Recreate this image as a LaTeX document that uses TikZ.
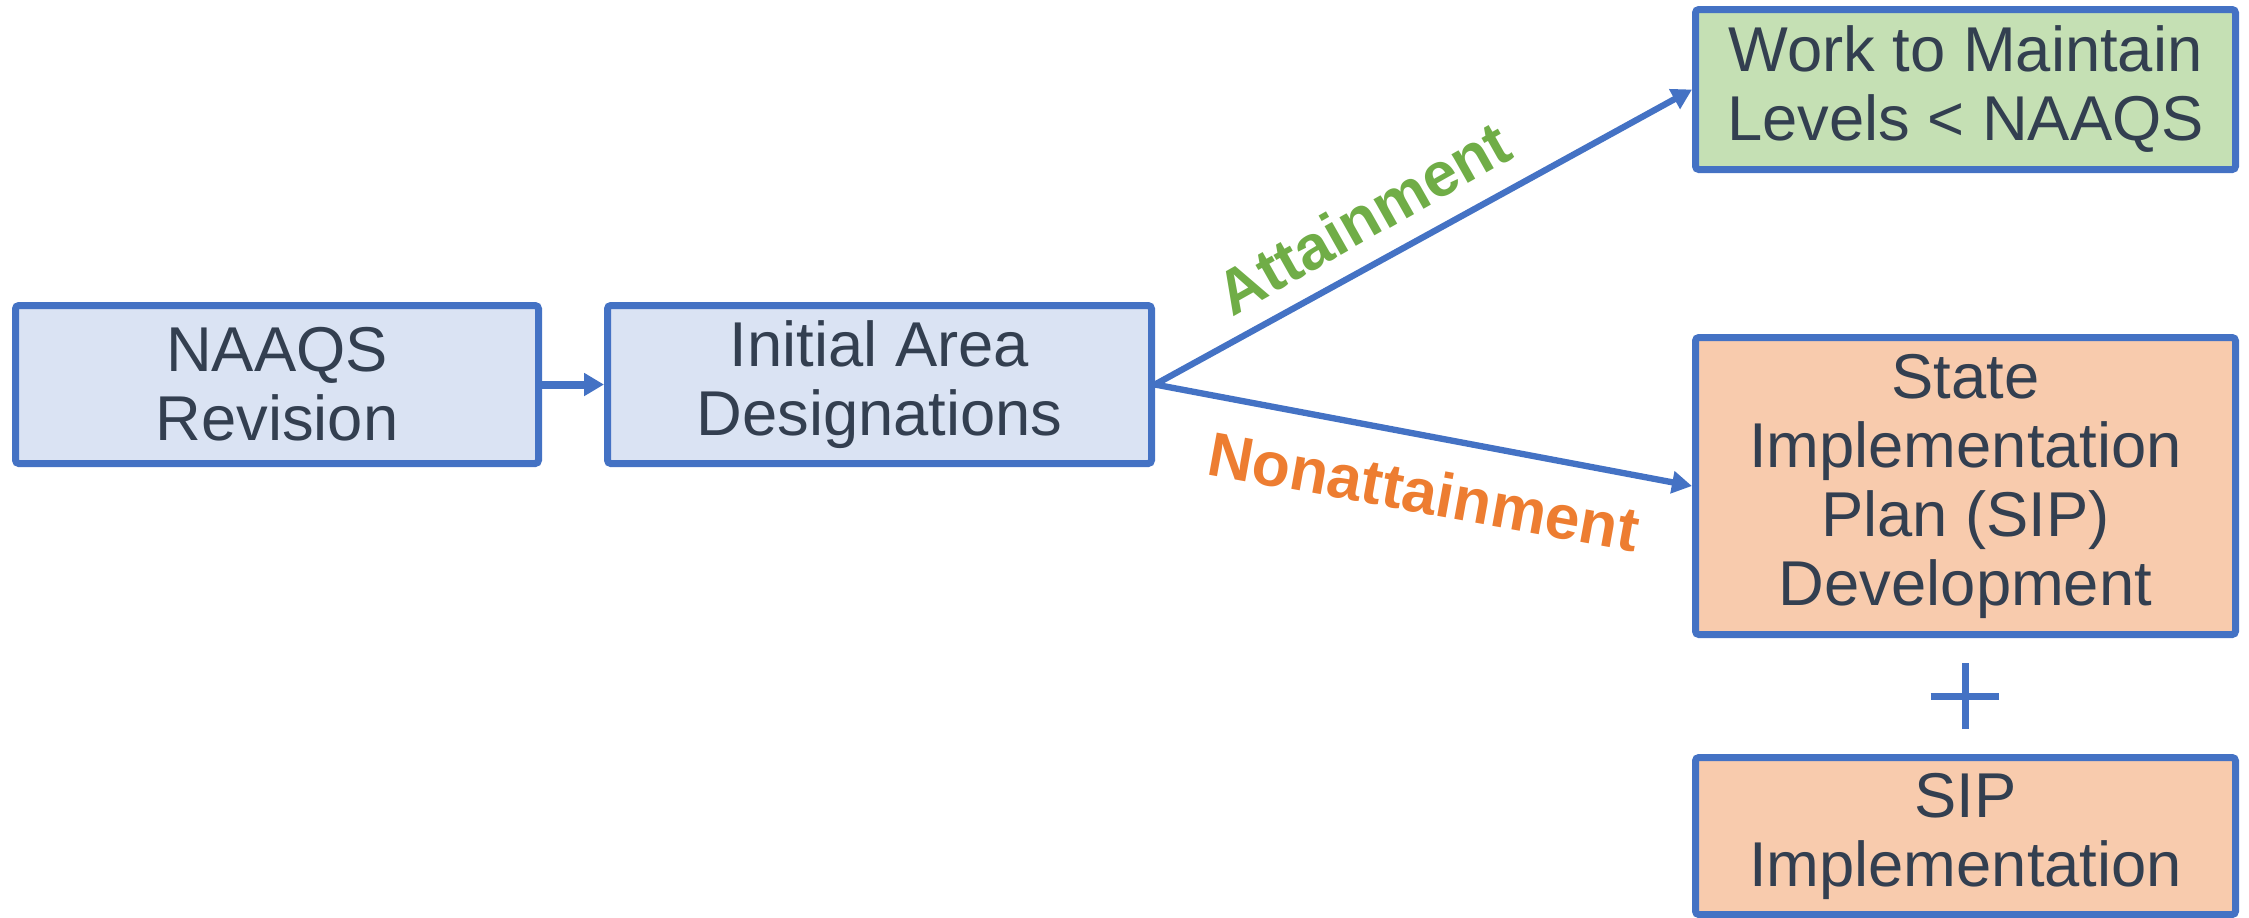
\documentclass[tikz,border=0pt]{standalone}
\usepackage{fontspec}
\setmainfont{Liberation Sans}
\usetikzlibrary{arrows.meta}
\definecolor{bord}{HTML}{4472C4}
\definecolor{fillblue}{HTML}{DAE3F3}
\definecolor{fillgreen}{HTML}{C5E0B4}
\definecolor{fillorange}{HTML}{F8CBAD}
\definecolor{txt}{HTML}{333F50}
\definecolor{labgreen}{HTML}{70AD47}
\definecolor{laborange}{HTML}{ED7D31}
\tikzset{
  box/.style={draw=bord, line width=2.1pt, rounded corners=1pt, inner sep=0pt,
    align=center, text=txt, font=\fontsize{19}{20.7}\selectfont},
  flow/.style={draw=bord, line width=1.9pt, -{Triangle[length=6pt,width=6.5pt]}},
  flowthick/.style={draw=bord, line width=2.4pt, -{Triangle[length=6pt,width=6.6pt]}},
  lab/.style={font=\bfseries\fontsize{18.7}{20}\selectfont, inner sep=0pt, anchor=base},
  plusline/.style={draw=bord, line width=2.1pt}
}
\begin{document}
\begin{tikzpicture}[x=0.3pt,y=-0.3pt]
\useasboundingbox (0,0) rectangle (2249,917);
\node[box, fill=fillblue, minimum width=156.9pt, minimum height=47.4pt] (n) at (277,384.5) {NAAQS\\Revision};
\node[box, fill=fillblue, minimum width=163.2pt, minimum height=47.4pt] (i) at (879.5,384.5) {Initial Area\\Designations};
\node[box, fill=fillgreen, minimum width=162pt, minimum height=48pt] (w) at (1965.5,89.5) {Work to Maintain\\Levels < NAAQS};
\node[box, fill=fillorange, minimum width=162pt, minimum height=89.1pt] (s) at (1965.5,486) {State\\Implementation\\Plan (SIP)\\Development};
\node[box, fill=fillorange, minimum width=162pt, minimum height=47.1pt] (p) at (1965.5,836) {SIP\\Implementation};
\draw[flowthick] (n.east) -- (i.west);
\draw[flow] (i.east) -- (w.west);
\draw[flow] (i.east) -- (s.west);
\node[lab, text=labgreen, rotate=29.5] (la) at (1374,237) {Attainment};
\node[lab, text=laborange, rotate=-10.3] (ln) at (1420,513) {Nonattainment};
\coordinate (plus) at (1965,696);
\draw[plusline] ([yshift=-9.9pt]plus) -- ([yshift=9.9pt]plus);
\draw[plusline] ([xshift=-10.3pt]plus) -- ([xshift=10.3pt]plus);
\end{tikzpicture}
\end{document}
